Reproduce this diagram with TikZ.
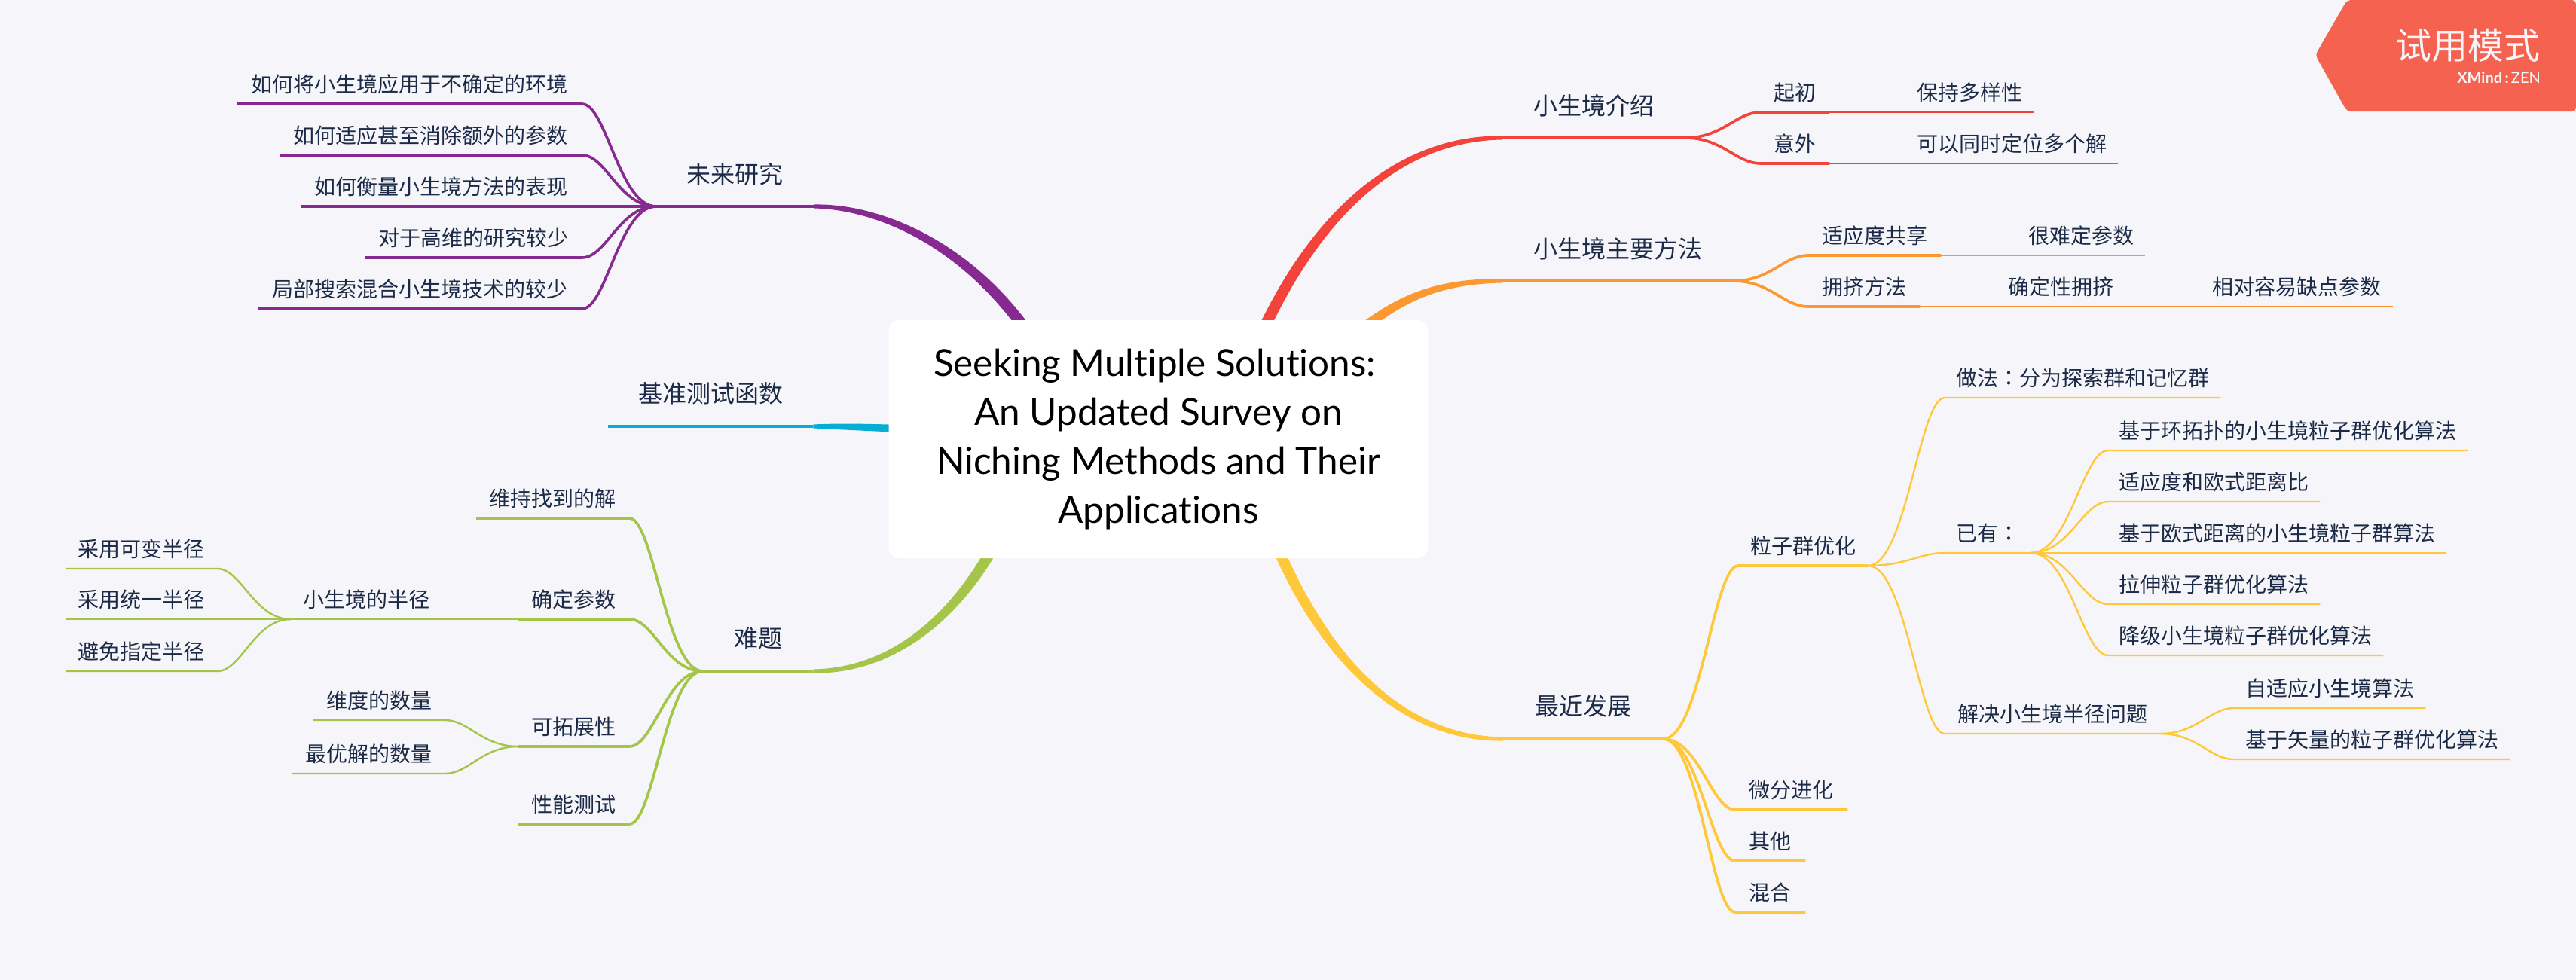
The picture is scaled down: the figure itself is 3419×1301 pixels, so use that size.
\documentclass[tikz,border=0pt]{standalone}
\usepackage{fontspec}
\usepackage{tikz}
\usetikzlibrary{calc}
\setmainfont{Noto Sans CJK SC}
\newfontfamily\titlefont[Ligatures={NoCommon}]{Lato}
\newfontfamily\twfont{Noto Sans CJK TC}
\definecolor{paper}{HTML}{F6F6FA}
\definecolor{ink}{HTML}{1B2A47}
\definecolor{introcol}{HTML}{F4433A}
\definecolor{methcol}{HTML}{FD9831}
\definecolor{recentcol}{HTML}{FFC83A}
\definecolor{hardcol}{HTML}{A4C548}
\definecolor{benchcol}{HTML}{06AED5}
\definecolor{futcol}{HTML}{862A92}
\definecolor{badgecol}{HTML}{F56350}
\newcommand{\mainbranch}[6]{\fill[#1] ($(#3)+(#6)$) .. controls ($(#4)+(#6)$) and ($(#5)+(0,4.5)$) .. ($(#2)+(0,2.5)$) -- ($(#2)+(0,-2.5)$) .. controls ($(#5)+(0,-4.5)$) and ($(#4)-(#6)$) .. ($(#3)-(#6)$) -- cycle;}
\begin{document}
\begin{tikzpicture}[x=1pt,y=-1pt]
	\tikzstyle{topic}=[anchor=south west,inner sep=0pt,text=ink,font=\fontsize{28}{34}\selectfont,minimum height=52pt]
	\tikzstyle{maintopic}=[topic,font=\fontsize{32}{38}\selectfont,minimum height=86pt]
	\tikzstyle{branch}=[to path={.. controls ($(\tikztostart)!0.5!(\tikztotarget |- \tikztostart)$) and ($(\tikztotarget)!0.33!(\tikztostart |- \tikztotarget)$) .. (\tikztotarget)}]
	\tikzstyle{thick line}=[line width=3.6pt,line join=round]
	\tikzstyle{thin line}=[line width=2.4pt,line join=round]
	\fill[paper] (0,0) rectangle (3419,1301);
	% future work
	\node[maintopic,minimum width=209pt] (fut) at (871,274) {未来研究};
	\node[topic,minimum width=457pt] (fut1) at (315,138) {如何将小生境应用于不确定的环境};
	\node[topic,minimum width=401pt] (fut2) at (371,206) {如何适应甚至消除额外的参数};
	\node[topic,minimum width=373pt] (fut3) at (399,274) {如何衡量小生境方法的表现};
	\node[topic,minimum width=288pt] (fut4) at (484,342) {对于高维的研究较少};
	\node[topic,minimum width=429pt] (fut5) at (343,410) {局部搜索混合小生境技术的较少};
	\mainbranch{futcol}{fut.south east}{1400,500}{1310,330}{1170,274}{-6,5}
	\draw[futcol,thick line] (fut.south west) -- (fut.south east);
	\draw[futcol,thick line,branch] (fut.south west) to (fut1.south east) -- (fut1.south west);
	\draw[futcol,thick line,branch] (fut.south west) to (fut2.south east) -- (fut2.south west);
	\draw[futcol,thick line,branch] (fut.south west) to (fut3.south east) -- (fut3.south west);
	\draw[futcol,thick line,branch] (fut.south west) to (fut4.south east) -- (fut4.south west);
	\draw[futcol,thick line,branch] (fut.south west) to (fut5.south east) -- (fut5.south west);
	% benchmark
	\node[maintopic,minimum width=272pt] (bench) at (807,566) {基准测试函数};
	\mainbranch{benchcol}{bench.south east}{1220,570}{1170,568}{1120,566}{0,5}
	\draw[benchcol,thick line] (bench.south west) -- (bench.south east);
	% difficulties
	\node[maintopic,minimum width=146pt] (hard) at (933,891) {难题};
	\node[topic,minimum width=203pt] (hard1) at (632,688) {维持找到的解};
	\node[topic,minimum width=147pt] (hard2) at (688,822) {确定参数};
	\node[topic,minimum width=147pt] (hard3) at (688,991) {可拓展性};
	\node[topic,minimum width=147pt] (hard4) at (688,1094) {性能测试};
	\node[topic,minimum width=200pt] (rad) at (386,822) {小生境的半径};
	\node[topic,minimum width=201pt] (rad1) at (87,755) {采用可变半径};
	\node[topic,minimum width=201pt] (rad2) at (87,822) {采用统一半径};
	\node[topic,minimum width=201pt] (rad3) at (87,891) {避免指定半径};
	\node[topic,minimum width=174pt] (scale1) at (416,956) {维度的数量};
	\node[topic,minimum width=202pt] (scale2) at (388,1027) {最优解的数量};
	\mainbranch{hardcol}{hard.south east}{1350,660}{1290,810}{1190,891}{6,5}
	\draw[hardcol,thick line] (hard.south west) -- (hard.south east);
	\draw[hardcol,thick line,branch] (hard.south west) to (hard1.south east) -- (hard1.south west);
	\draw[hardcol,thick line,branch] (hard.south west) to (hard2.south east) -- (hard2.south west);
	\draw[hardcol,thick line,branch] (hard.south west) to (hard3.south east) -- (hard3.south west);
	\draw[hardcol,thick line,branch] (hard.south west) to (hard4.south east) -- (hard4.south west);
	\draw[hardcol,thin line] (hard2.south west) -- (rad.south east) -- (rad.south west);
	\draw[hardcol,thin line,branch] (rad.south west) to (rad1.south east) -- (rad1.south west);
	\draw[hardcol,thin line,branch] (rad.south west) to (rad2.south east) -- (rad2.south west);
	\draw[hardcol,thin line,branch] (rad.south west) to (rad3.south east) -- (rad3.south west);
	\draw[hardcol,thin line,branch] (hard3.south west) to (scale1.south east) -- (scale1.south west);
	\draw[hardcol,thin line,branch] (hard3.south west) to (scale2.south east) -- (scale2.south west);
	% introduction
	\node[maintopic,minimum width=242pt] (intro) at (1994,183) {小生境介绍};
	\node[topic,minimum width=91pt] (intro1) at (2337,149) {起初};
	\node[topic,minimum width=170pt] (intro1a) at (2529,149) {保持多样性};
	\node[topic,minimum width=91pt] (intro2) at (2337,217) {意外};
	\node[topic,minimum width=282pt] (intro2a) at (2529,217) {可以同时定位多个解};
	\mainbranch{introcol}{intro.south west}{1650,500}{1735,280}{1860,183}{6,5}
	\draw[introcol,thick line] (intro.south west) -- (intro.south east);
	\draw[introcol,thick line,branch] (intro.south east) to (intro1.south west) -- (intro1.south east);
	\draw[introcol,thick line,branch] (intro.south east) to (intro2.south west) -- (intro2.south east);
	\draw[introcol,thin line] (intro1.south east) -- (intro1a.south east);
	\draw[introcol,thin line] (intro2.south east) -- (intro2a.south east);
	% main methods
	\node[maintopic,minimum width=306pt] (meth) at (1994,373) {小生境主要方法};
	\node[topic,minimum width=176pt] (meth1) at (2400,339) {适应度共享};
	\node[topic,minimum width=170pt] (meth1a) at (2677,339) {很难定参数};
	\node[topic,minimum width=148pt] (meth2) at (2400,407) {拥挤方法};
	\node[topic,minimum width=173pt] (meth2a) at (2649,407) {确定性拥挤};
	\node[topic,minimum width=255pt] (meth2b) at (2921,407) {相对容易缺点参数};
	\mainbranch{methcol}{meth.south west}{1760,480}{1840,400}{1900,373}{5,5}
	\draw[methcol,thick line] (meth.south west) -- (meth.south east);
	\draw[methcol,thick line,branch] (meth.south east) to (meth1.south west) -- (meth1.south east);
	\draw[methcol,thick line,branch] (meth.south east) to (meth2.south west) -- (meth2.south east);
	\draw[methcol,thin line] (meth1.south east) -- (meth1a.south east);
	\draw[methcol,thin line] (meth2.south east) -- (meth2b.south east);
	% recent progress
	\node[maintopic,minimum width=212pt] (recent) at (1995,981) {最近发展};
	\node[topic,minimum width=172pt] (pso) at (2307,751) {粒子群优化};
	\node[topic,minimum width=149pt] (recent2) at (2303,1075) {微分进化};
	\node[topic,minimum width=93pt] (recent3) at (2303,1143) {其他};
	\node[topic,minimum width=93pt] (recent4) at (2303,1211) {混合};
	\node[topic,minimum width=366pt] (pso1) at (2581,528) {做法{\twfont ：}分为探索群和记忆群};
	\node[topic,minimum width=114pt] (pso2) at (2581,734) {已有{\twfont ：}};
	\node[topic,minimum width=286pt] (pso3) at (2581,974) {解决小生境半径问题};
	\node[topic,minimum width=477pt] (have1) at (2798,598) {基于环拓扑的小生境粒子群优化算法};
	\node[topic,minimum width=281pt] (have2) at (2798,666) {适应度和欧式距离比};
	\node[topic,minimum width=449pt] (have3) at (2798,734) {基于欧式距离的小生境粒子群算法};
	\node[topic,minimum width=281pt] (have4) at (2798,802) {拉伸粒子群优化算法};
	\node[topic,minimum width=365pt] (have5) at (2798,870) {降级小生境粒子群优化算法};
	\node[topic,minimum width=254pt] (solve1) at (2965,940) {自适应小生境算法};
	\node[topic,minimum width=366pt] (solve2) at (2965,1008) {基于矢量的粒子群优化算法};
	\mainbranch{recentcol}{recent.south west}{1670,660}{1730,840}{1840,981}{-6,5}
	\draw[recentcol,thick line] (recent.south west) -- (recent.south east);
	\draw[recentcol,thick line,branch] (recent.south east) to (pso.south west) -- (pso.south east);
	\draw[recentcol,thick line,branch] (recent.south east) to (recent2.south west) -- (recent2.south east);
	\draw[recentcol,thick line,branch] (recent.south east) to (recent3.south west) -- (recent3.south east);
	\draw[recentcol,thick line,branch] (recent.south east) to (recent4.south west) -- (recent4.south east);
	\draw[recentcol,thin line,branch] (pso.south east) to (pso1.south west) -- (pso1.south east);
	\draw[recentcol,thin line,branch] (pso.south east) to (pso2.south west) -- (pso2.south east);
	\draw[recentcol,thin line,branch] (pso.south east) to (pso3.south west) -- (pso3.south east);
	\draw[recentcol,thin line,branch] (pso2.south east) to (have1.south west) -- (have1.south east);
	\draw[recentcol,thin line,branch] (pso2.south east) to (have2.south west) -- (have2.south east);
	\draw[recentcol,thin line,branch] (pso2.south east) to (have3.south west) -- (have3.south east);
	\draw[recentcol,thin line,branch] (pso2.south east) to (have4.south west) -- (have4.south east);
	\draw[recentcol,thin line,branch] (pso2.south east) to (have5.south west) -- (have5.south east);
	\draw[recentcol,thin line,branch] (pso3.south east) to (solve1.south west) -- (solve1.south east);
	\draw[recentcol,thin line,branch] (pso3.south east) to (solve2.south west) -- (solve2.south east);
	% central topic
	\node[fill=white,rounded corners=14pt,minimum width=716pt,minimum height=316pt,align=center,inner sep=0pt,text=black,font=\titlefont\fontsize{49.4}{65}\selectfont] (root) at (1537.5,583) {Seeking Multiple Solutions:\hspace*{10pt}\\An Updated Survey on\\Niching Methods and Their\hspace*{10pt}\\Applications};
	% trial badge
	\fill[badgecol,rounded corners=5pt] (3419,148) -- (3115,148) -- (3073,73) -- (3115,0) -- (3419,0) -- cycle;
	\node[anchor=center,text=paper,inner sep=0pt,font=\fontsize{48}{52}\selectfont] (trial) at (3275,60) {试用模式};
	\node[anchor=east,text=paper,inner sep=0pt,font=\titlefont\fontsize{20}{22}\selectfont] (brand) at (3372,103) {\textbf{XMind\,:}\,ZEN};
\end{tikzpicture}
\end{document}
